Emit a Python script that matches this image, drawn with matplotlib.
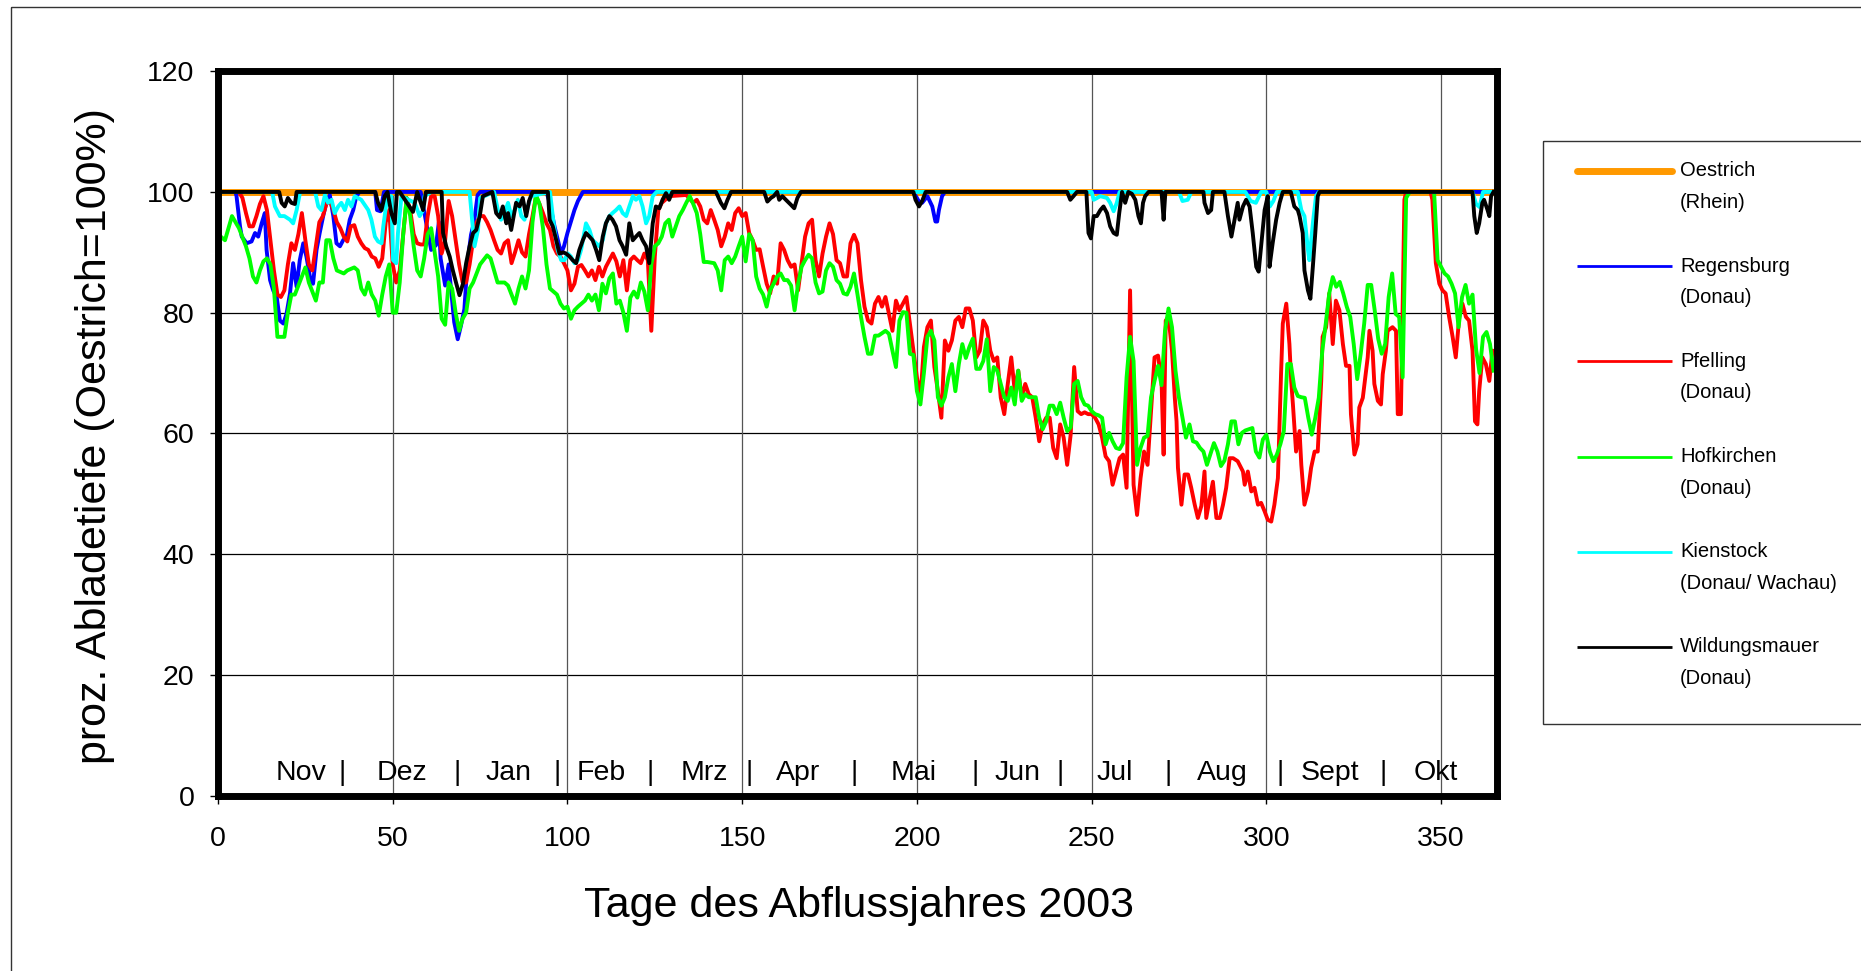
import numpy as np
import matplotlib
matplotlib.use('Agg')
import matplotlib.pyplot as plt
from matplotlib.patches import Rectangle

plt.rcParams['font.family'] = ['Liberation Sans', 'DejaVu Sans']

# ===== Daten: (Tag, proz. Abladetiefe) =====
oestrich = [(0, 100), (365, 100)]

regensburg = [
    (0, 100), (5, 100), (5.3, 99.3), (6.3, 94.3), (6.8, 92.6), (8.2, 91.5), (9.6, 91.8), (10.6, 93.2),
    (11.5, 92.6), (12.5, 94.8), (13.4, 96.5), (13.9, 90.4), (14.9, 85.4), (15.8, 83.7), (16.8, 82.6),
    (17.7, 78.7), (18.7, 78.2), (19.6, 79.8), (20.6, 83.2), (21.5, 88.2), (22.5, 84.3), (23.4, 88.7),
    (24.4, 91.5), (25.3, 89.3), (26.3, 86), (27.2, 84.8), (28.2, 90.4), (29.1, 93.2), (30.1, 96),
    (31, 98.2), (32, 99.5), (33, 96), (33.9, 91.5), (34.9, 91), (35.8, 92), (36.8, 92.6), (37.7, 95.4),
    (38.7, 97), (39.6, 99.3), (40.5, 100), (45, 100), (45.5, 97), (46.5, 96.8), (47.5, 100), (58, 100),
    (59.6, 94.8), (61, 90.4), (62.4, 91.2), (63.2, 95), (63.7, 89), (65, 84.5), (66, 88), (67.6, 78.4),
    (68.6, 75.6), (69.5, 77.8), (70.5, 80.6), (71.4, 88.4), (72.4, 92.9), (73.3, 95.1), (74.3, 99.5),
    (75, 100), (94, 100), (95, 98), (96.3, 94.3), (98.2, 89.8), (99, 91), (100, 93.2), (102, 97),
    (103, 98.5), (104.4, 100), (199, 100), (200.6, 98.4), (201.5, 98.2), (203, 99.3), (204.4, 97.6),
    (205.3, 95.1), (205.8, 95.1), (206.3, 97), (207.2, 99.3), (208, 100), (365, 100)]

pfelling = [
    (0, 100), (6, 100), (7, 99), (8, 96.5), (9, 94.3), (10, 94.3), (11, 96), (12, 98), (13, 99.3), (14, 97),
    (15, 92), (16, 87), (17, 83), (18, 82.6), (19, 83.7), (20, 88), (21, 91.5), (22, 90.4), (23, 93),
    (24, 96.5), (25, 92), (26, 88), (27, 87), (28, 91), (29, 95), (30, 96), (31, 98), (32, 98.5), (33, 97),
    (34, 95), (35, 94), (36, 92.6), (37, 91.8), (38, 94.3), (39, 94.5), (40, 92.6), (41, 91.5), (42, 90.7),
    (43, 90.4), (44, 89.3), (45, 89), (46, 87.6), (47, 89), (48, 95), (49, 97), (50, 88), (51, 85), (52, 87),
    (53, 93), (54, 99), (55, 97), (56, 93), (57, 91.5), (58, 91.3), (59, 91.3), (60, 96), (61, 99.3),
    (62, 99.3), (63, 96), (64, 89.8), (65, 92), (66, 98.5), (67, 96), (68, 92), (69, 88), (70, 85), (71, 85),
    (72, 88), (73, 92), (74, 95), (75, 96), (76, 96), (77, 95), (78, 93.7), (79, 92), (80, 90.4), (81, 89.8),
    (82, 91.5), (83, 92), (84, 88.2), (85, 90), (86, 92), (87, 90), (88, 89.3), (89, 93), (90, 96),
    (91, 99.3), (92, 98), (93, 96.5), (94, 94.8), (95, 93.7), (96, 91), (97, 89.8), (98, 89.3), (99, 88.2),
    (100, 87), (101, 83.7), (102, 84.8), (103, 87.6), (104, 87.9), (105, 87), (106, 86), (107, 87),
    (108, 85.4), (109, 87.6), (110, 86), (111, 87.6), (112, 88.7), (113, 89.8), (114, 88.5), (115, 86),
    (116, 88.7), (117, 83.7), (118, 88.7), (119, 89.3), (120, 88.7), (121, 88.2), (122, 89.8), (123, 88.7),
    (124, 77), (125, 89.3), (126, 97), (127, 98.2), (128, 98.7), (129, 99.3), (134, 99.5), (136, 98.2),
    (137, 98.7), (138, 97.6), (139, 95.4), (140, 94.8), (141, 97), (142, 95.4), (143, 93.7), (144, 91),
    (145, 92.6), (146, 94.8), (147, 93.7), (148, 96.5), (149, 97.3), (150, 96), (151, 96.5), (152, 93.2),
    (153, 92), (154, 90.4), (155, 90.5), (156, 87.6), (157, 84.8), (158, 83.2), (159, 86), (160, 84.8),
    (161, 91.5), (162, 90.4), (163, 88.7), (164, 87.6), (165, 88), (166, 83.7), (167, 88.2), (168, 92.6),
    (169, 94.8), (170, 95.4), (171, 88.7), (172, 86), (173, 89.8), (174, 92.6), (175, 94.8), (176, 93),
    (177, 88.7), (178, 88.2), (179, 86), (180, 86), (181, 91.5), (182, 92.9), (183, 91.5), (184, 85.4),
    (185, 81), (186, 78.7), (187, 78.2), (188, 81.5), (189, 82.6), (190, 81), (191, 82.6), (192, 79.8),
    (193, 77), (194, 82), (195, 80.4), (196, 81.5), (197, 82.6), (198, 78.2), (199, 73.7), (200, 69.3),
    (201, 65.9), (202, 74.3), (203, 77.6), (204, 78.7), (205, 71), (206, 67), (207, 62.6), (208, 75.4),
    (209, 73.7), (210, 75.4), (211, 78.7), (212, 79.3), (213, 77.6), (214, 80.7), (215, 80.7), (216, 78.7),
    (217, 72.6), (218, 73.7), (219, 78.7), (220, 77.6), (221, 73.7), (222, 72), (223, 72.6), (224, 65.9),
    (225, 63.2), (226, 68.2), (227, 72.6), (228, 67), (229, 70.4), (230, 65.9), (231, 68.2), (232, 66.5),
    (233, 66), (234, 62.6), (235, 58.7), (236, 61.5), (237, 62.6), (238, 62.6), (239, 57.6), (240, 55.9),
    (241, 61.5), (242, 59.3), (243, 54.8), (244, 59.8), (245, 71), (246, 63.7), (247, 63.2), (248, 63.5),
    (249, 63.2), (250, 63.2), (251, 62.6), (252, 61.5), (253, 59.3), (254, 56.2), (255, 55.4), (256, 51.5),
    (257, 53.7), (258, 55.9), (259, 56.5), (260, 51), (261, 83.7), (262, 51.5), (263, 46.5), (264, 52.6),
    (265, 57), (266, 54.8), (267, 63.7), (268, 72.6), (269, 72.9), (270, 68.7), (270.6, 56.5), (271.2, 78.7),
    (272, 79.3), (273, 73.7), (273.8, 65.9), (274.3, 62), (274.7, 54.3), (275.7, 48.2), (276.6, 53.2),
    (277.6, 53.2), (278.5, 51), (279.5, 48.2), (280.4, 46), (281.4, 48), (282.3, 53.7), (282.8, 46),
    (283.8, 49.3), (284.7, 52), (285.7, 46), (286.7, 46), (287.6, 48.2), (288.5, 51), (289.5, 55.9),
    (290.5, 55.9), (291.8, 55.4), (293.3, 53.7), (293.8, 51.5), (294.7, 53.7), (295.7, 50.4), (296.6, 51),
    (297.6, 48.2), (298.5, 48.5), (299.5, 47.1), (300.4, 45.7), (301.4, 45.4), (302.3, 48.2), (303.3, 52.6),
    (304.2, 69.8), (304.7, 78.2), (305.7, 81.5), (306.6, 74.8), (307.1, 68.7), (307.6, 64.8), (308.5, 57),
    (309.5, 60.4), (310, 54.8), (310.9, 48.2), (311.9, 50.4), (312.8, 54.3), (313.8, 57), (314.7, 57),
    (315.7, 68.7), (316.1, 76), (317.1, 77.6), (318, 83.2), (319, 74.8), (319.9, 82), (320.9, 80.4),
    (321.9, 74.8), (322.8, 71.2), (323.8, 71.2), (324.2, 63.2), (325.2, 56.5), (326.1, 58.2), (326.6, 64.3),
    (327.6, 65.9), (329, 72.6), (329.5, 77), (330.4, 73.7), (330.9, 68.2), (331.9, 65.4), (332.8, 64.8),
    (333.3, 69.8), (334.2, 73.7), (334.7, 77), (336.1, 77.6), (337.1, 77), (337.6, 63.2), (338.5, 63.2),
    (339.5, 98.7), (340, 100), (347, 100), (347.5, 98.7), (348.5, 88.2), (349.5, 84.8), (350.4, 83.7),
    (351.3, 83.2), (352.3, 79.3), (353.3, 76), (354.2, 72.6), (355.2, 79.3), (356.1, 81.5), (357.1, 79.3),
    (358, 78.7), (359, 73.7), (359.7, 62), (360.4, 61.5), (360.9, 67), (361.8, 72.6), (362.8, 71.5),
    (363.8, 68.7), (364.7, 73.7)]

hofkirchen = [
    (0, 93), (1, 92.5), (2, 92), (4, 96), (6, 94), (8, 91), (9, 89), (10, 86), (11, 85), (12, 87), (13, 88.5),
    (14, 89), (15, 88), (16, 84), (17, 76), (18, 76), (19, 76), (20, 80), (21, 83), (22, 83), (24, 86),
    (25, 87.5), (26, 85), (27, 83.5), (28, 82), (29, 85), (30, 85), (31, 92), (32, 92), (33, 89), (34, 87),
    (36, 86.5), (37, 87), (39, 87.5), (40, 87), (41, 84), (42, 83), (43, 85), (44, 83), (45, 82), (46, 79.5),
    (47, 83), (48, 86), (49, 88), (50, 80), (51, 80), (52, 85), (53, 93), (54, 99), (55, 96), (56, 91),
    (57, 87), (58, 86), (59, 89), (60, 93), (61, 94), (62, 90), (63, 86), (64, 79), (65, 78), (66, 85),
    (67, 84), (68, 80), (69, 77), (70, 79), (71, 80), (72, 84), (73, 85), (75, 88), (77, 89.5), (78, 89),
    (79, 87), (80, 85), (82, 85), (83, 84.5), (84, 83), (85, 81.5), (86, 84), (87, 86), (88, 84), (89, 87),
    (90, 95), (91, 99.5), (92, 98), (93, 94), (94, 88), (95, 84), (96, 83.5), (97, 83), (98, 81.5),
    (99, 80.7), (100, 81), (101, 79), (102, 80.4), (103, 81), (104, 81.5), (105, 82), (106, 83), (107, 82),
    (108, 83), (109, 80.4), (110, 84.8), (111, 83.2), (112, 85.7), (113, 86.5), (114, 81.5), (115, 82),
    (116, 80), (117, 77), (118, 82.5), (119, 83.5), (120, 82.5), (121, 85), (122, 83.5), (123, 80.4),
    (124, 88), (125, 91), (126, 91.5), (127, 92.6), (128, 94.8), (129, 95.4), (130, 92.6), (131, 94.3),
    (132, 96), (133, 97), (134, 98.2), (135, 99.3), (136, 98), (137, 96.5), (138, 93), (139, 88.4),
    (140, 88.4), (141, 88.3), (142, 88.2), (143, 87), (144, 83.7), (145, 88.7), (146, 89.3), (147, 88.2),
    (148, 89.3), (149, 91), (150, 92.6), (151, 88.5), (152, 93), (153, 92), (154, 86), (155, 84), (156, 83),
    (157, 81), (158, 83.7), (159, 84.8), (160, 86), (161, 86.5), (162, 85.4), (163, 85.4), (164, 84.5),
    (165, 80.4), (166, 84.8), (167, 87.6), (168, 88.7), (169, 89.6), (170, 89), (171, 85), (172, 83.2),
    (173, 83.5), (174, 87), (175, 88.2), (176, 87.6), (177, 85.4), (178, 84.8), (179, 83.2), (180, 83),
    (181, 84.3), (182, 86.5), (183, 83), (184, 79.3), (185, 76), (186, 73.2), (187, 73.2), (188, 76.2),
    (189, 76.2), (191, 77), (192, 76.5), (193, 73.7), (194, 71), (195, 78.7), (196, 80.1), (197, 80),
    (198, 73.2), (199, 73), (200, 67), (201, 64.8), (202, 70), (203, 76), (204, 77), (205, 75.4), (206, 66),
    (207, 64.6), (208, 66), (209, 69.3), (210, 71.5), (211, 67), (212, 71.5), (213, 74.8), (214, 72.5),
    (215, 74.3), (216, 75.7), (217, 70.7), (218, 70.7), (219, 72), (220, 75.6), (221, 67), (222, 71),
    (223, 70.4), (224, 68.2), (225, 66), (226, 65.4), (227, 67.6), (228, 64.8), (229, 70.4), (230, 65.4),
    (231, 66.5), (232, 66), (234, 66), (235, 62.6), (236, 60.7), (237, 62), (238, 64.6), (239, 64.6),
    (240, 63.2), (241, 65.1), (242, 62.6), (243, 60.4), (244, 61), (245, 68.2), (246, 68.7), (247, 66),
    (248, 64.8), (249, 64.6), (250, 63.7), (251, 63.2), (252, 63), (253, 62.6), (254, 58.2), (255, 60.1),
    (256, 58.7), (257, 57.6), (258, 57.4), (259, 58.4), (260, 69.3), (261, 76), (262, 72), (263, 54.8),
    (264, 57.6), (265, 59.3), (266, 59.6), (267, 66), (268, 68.7), (269, 71.2), (270, 68), (271, 77),
    (272, 80.7), (273, 77.6), (274, 70.4), (275, 65.9), (276, 62.6), (277, 59.3), (278, 61.5), (279, 58.7),
    (280, 58.5), (281, 57.6), (282, 57), (283, 54.8), (285, 58.4), (286, 57), (287, 54.6), (288, 55.5),
    (289, 58.2), (290, 62), (291, 62), (292, 58.2), (293, 60.1), (294, 60.5), (296, 60.9), (297, 57),
    (298, 56), (299, 59), (300, 59.8), (301, 57), (302, 55.4), (303, 56.5), (304, 58.2), (305, 60.4),
    (306, 71.5), (307, 71.5), (308, 67.6), (309, 66.2), (310, 66), (311, 65.9), (312, 62.6), (313, 59.8),
    (314, 62.6), (315, 65.9), (316, 73.7), (317, 78.2), (318, 83.2), (319, 85.9), (320, 84.3), (321, 85.1),
    (322, 83.2), (323, 81), (324, 79.3), (325, 74.8), (326, 69), (327, 73.2), (328, 78.2), (329, 84.6),
    (330, 84.6), (331, 80.4), (332, 75.7), (333, 73.2), (334, 74.8), (335, 82.6), (336, 86.5), (337, 79.8),
    (338, 79.3), (339, 69.3), (340, 99), (341, 100), (348, 100), (349, 88.7), (350, 87.6), (351, 86.5),
    (352, 86), (353, 84.8), (354, 83.2), (355, 77.6), (356, 82.6), (357, 84.6), (358, 81.5), (359, 83),
    (360, 74), (361, 70), (362, 76), (363, 76.8), (364, 74.8), (365, 70.4)]

kienstock = [
    (0, 100), (15.5, 100), (16.3, 97.6), (17.7, 96), (19, 96), (20.6, 95.4), (21.5, 94.8), (22.5, 97),
    (23.5, 100), (27.8, 100), (28.7, 97.6), (29.6, 97), (30.6, 99.5), (31.5, 98.2), (32.5, 98.7),
    (33.4, 96.5), (34.4, 97.6), (35.3, 98.2), (36.3, 97), (37.2, 98.7), (38.2, 97.6), (39.1, 99.3),
    (41, 98.7), (43, 97), (43.9, 95.4), (44.9, 92.6), (45.8, 91.8), (46.8, 91.5), (47.3, 94.3), (48.2, 98.2),
    (48.7, 99.3), (49.6, 99.3), (50.1, 88.7), (51, 88.2), (51.5, 93.2), (52.5, 99.3), (56.3, 98.2),
    (57.7, 96), (58.7, 97), (59.1, 99.3), (61, 100), (72, 100), (73.4, 91), (74.4, 93.7), (75, 99),
    (79, 100), (80.1, 97), (81, 95.4), (82, 96.5), (83, 98.2), (83.9, 96), (84.9, 97), (85.8, 98.7),
    (86.8, 96), (87.7, 95.4), (88.7, 97.6), (89.6, 99.3), (95, 100), (96, 95), (97.2, 90.4), (98.2, 88.7),
    (99.1, 88.7), (100.1, 89.8), (101, 89.3), (102, 88.2), (103, 88.7), (103.9, 90.4), (105.3, 94.8),
    (106.3, 93.7), (107.2, 92), (108.2, 91.5), (109.1, 91), (110.1, 92), (111, 94.8), (112, 96),
    (112.9, 96.5), (113.9, 97), (114.9, 97.6), (115.8, 96.5), (116.8, 96), (117.7, 97.6), (118.7, 99.3),
    (119.6, 98.7), (120.6, 99.3), (121.5, 97.6), (122.5, 94.8), (123.4, 96), (124.4, 99.3), (125.5, 100),
    (250, 100), (250.6, 98.7), (252.5, 99.3), (254.4, 99), (255.3, 98.2), (256.3, 96.8), (257.2, 98.2),
    (258, 100), (275, 100), (276, 98.5), (277.5, 98.7), (278.5, 100), (294, 100), (295.5, 98.5),
    (297, 98.2), (298.5, 100), (300, 100), (301, 97.6), (302, 98.5), (303, 100), (309, 100), (310, 97),
    (310.9, 96), (311.9, 90.4), (312.3, 88.7), (313.3, 94.8), (314.2, 99.3), (315, 100), (359, 100),
    (360, 98), (361, 97.5), (362, 100), (365, 100)]

wildungsmauer = [
    (0, 100), (17.5, 100), (18.2, 98.2), (19.1, 97.6), (20, 99), (21, 98.2), (22, 98), (22.5, 100),
    (45, 100), (45.8, 98.2), (46.8, 97), (47.7, 99.3), (48.5, 100), (49.6, 96.5), (50.6, 94.8), (51.2, 100),
    (52, 100), (55.8, 96.7), (57, 100), (58.7, 97), (59.5, 100), (64, 100), (64.4, 93.2), (65.3, 91),
    (66.3, 89.3), (67.2, 87), (68.2, 84.8), (69.1, 82.9), (70.1, 84.8), (71, 88.2), (72, 91), (73, 93.2),
    (73.9, 93.7), (74.9, 96), (75.8, 99.3), (78.5, 100), (79.6, 96.5), (80.6, 95.8), (81.5, 97.6),
    (82.5, 94.8), (83, 96.5), (83.9, 93.7), (85.3, 98.2), (86.3, 97.6), (87.2, 99), (88.2, 96), (89, 98.5),
    (90, 100), (94.4, 100), (94.9, 95.4), (95.8, 94.3), (96.8, 92), (97.7, 89.8), (98.7, 90), (99.6, 89.8),
    (100.6, 89.3), (101.5, 88.7), (102.5, 88.2), (103.4, 90.4), (104.4, 92), (105.3, 93.2), (106.3, 92.6),
    (107.2, 92), (108.2, 90.4), (109.1, 88.7), (110.1, 92.6), (111, 94.8), (112, 96), (112.9, 95.4),
    (113.9, 94.3), (114.9, 92), (115.8, 91), (116.8, 89.6), (117.7, 94.8), (118.7, 92), (119.6, 92.6),
    (120.6, 93.2), (121.5, 92), (122.5, 91), (123.4, 88.2), (124.4, 94.8), (125.3, 97.6), (126.3, 97.3),
    (127.2, 98.7), (128.2, 99.8), (129.1, 98.7), (130, 100), (142.5, 100), (143.9, 98.2), (144.9, 97.3),
    (145.8, 98.7), (146.8, 100), (156.3, 100), (157.2, 98.4), (158.2, 99), (159, 99.3), (160, 100),
    (160.6, 98.7), (161.5, 99.3), (162.5, 98.7), (163.9, 97.9), (164.9, 97.3), (165.8, 99), (166.8, 100),
    (199, 100), (199.6, 98.7), (200.6, 97.6), (201.5, 98.5), (202.5, 100), (243, 100), (243.9, 98.7),
    (244.8, 99.3), (245.8, 100), (248.5, 100), (249.1, 93.2), (249.8, 92.3), (250.6, 96), (251.5, 96),
    (252.5, 97), (253.4, 97.6), (254.4, 96.5), (255.3, 94.3), (256.3, 93.2), (257.2, 92.9), (257.9, 96.5),
    (258.7, 100), (259.6, 98.2), (260.5, 100), (261.5, 99.7), (262.5, 98.7), (263.4, 96), (264.1, 94.8),
    (264.7, 98.2), (265.3, 99.3), (266.3, 100), (270, 100), (270.6, 95.4), (271.1, 100), (282, 100),
    (282.3, 98.2), (283.3, 96.5), (284.2, 97), (284.7, 100), (288, 100), (289, 96), (290, 92.6),
    (290.9, 95.4), (291.8, 98.2), (292.3, 95.4), (293.3, 97.6), (294.2, 98.7), (295.2, 97.6), (296.1, 93.2),
    (297.1, 87.6), (297.8, 86.8), (298.5, 91), (299.5, 97), (300.4, 99.3), (300.9, 87.6), (301.8, 91.5),
    (302.8, 95.4), (303.8, 98.2), (304.7, 100), (307, 100), (308, 97.6), (309, 97), (309.5, 96),
    (310.4, 93.2), (310.9, 87), (311.9, 83.7), (312.6, 82.3), (313.3, 87.6), (314, 93.2), (314.7, 99.3),
    (315.2, 100), (359, 100), (359.5, 96), (360.2, 93.2), (360.9, 94.8), (361.8, 98.2), (362.3, 98.7),
    (363.3, 97), (363.8, 96), (364.3, 99.3), (365, 100)]

stationen = ['Oestrich', 'Regensburg', 'Pfelling', 'Hofkirchen', 'Kienstock', 'Wildungsmauer']
fluesse = ['(Rhein)', '(Donau)', '(Donau)', '(Donau)', '(Donau/ Wachau)', '(Donau)']
farben = ['#FF9900', '#0000FF', '#FF0000', '#00FF00', '#00FFFF', '#000000']
reihen = [oestrich, regensburg, pfelling, hofkirchen, kienstock, wildungsmauer]

monate = ['Nov', 'Dez', 'Jan', 'Feb', 'Mrz', 'Apr', 'Mai', 'Jun', 'Jul', 'Aug', 'Sept', 'Okt']
monat_tage = [23.8, 52.5, 83, 109.7, 139.3, 166, 199, 228.7, 256.5, 287.4, 318.2, 348.5]
trenner_tage = [35.4, 68.3, 97.1, 123.6, 152, 181.9, 216.8, 241, 271.8, 304, 333.5]

# ===== Figur =====
W, H = 1861, 971
fig = plt.figure(figsize=(W / 100, H / 100), dpi=100)
ax = fig.add_axes([218 / W, 1 - 795.7 / H, (1497 - 218) / W, (795.7 - 71.2) / H])

for i, (pts, farbe) in enumerate(zip(reihen, farben)):
    t, w = np.array(pts).T
    if i == 0:
        ax.plot(t, w, color=farbe, lw=5, solid_capstyle='round', zorder=2)
    else:
        ax.plot(t, w, color=farbe, lw=2.8, zorder=2 + i)

for yv in range(20, 101, 20):
    ax.axhline(yv, color='black', lw=0.9, zorder=1)
for xv in range(50, 351, 50):
    ax.axvline(xv, color='#555555', lw=0.9, zorder=1)

for name, tag in zip(monate, monat_tage):
    ax.text(tag, 3.8, name, ha='center', va='center', fontsize=20.5)
for tag in trenner_tage:
    ax.text(tag, 3.8, '|', ha='center', va='center', fontsize=20.5)

ax.set_xlim(0, 366)
ax.set_ylim(0, 120)
ax.set_xticks(range(0, 351, 50))
ax.set_yticks(range(0, 121, 20))
for s in ax.spines.values():
    s.set_linewidth(5)
    s.set_zorder(10)
ax.tick_params(direction='out', length=6, width=1, labelsize=20.5)
ax.tick_params(axis='y', pad=11)
ax.tick_params(axis='x', pad=16)

# ===== Overlay in Pixelkoordinaten =====
ov = fig.add_axes([0, 0, 1, 1], zorder=20)
ov.set_xlim(0, W)
ov.set_ylim(H, 0)
ov.axis('off')
ov.patch.set_alpha(0)

ov.add_patch(Rectangle((11, 7), 1900, 1000, fill=False, ec='#333333', lw=1))
ov.add_patch(Rectangle((1543, 141), 400, 583, fill=False, ec='#333333', lw=1))

ov.text(95, 436, 'proz. Abladetiefe (Oestrich=100%)', rotation=90, ha='center', va='center', fontsize=31)
ov.text(859, 906, 'Tage des Abflussjahres 2003', ha='center', va='center', fontsize=31)

for i, (name, fluss, farbe) in enumerate(zip(stationen, fluesse, farben)):
    y = 171 + i * 95.2
    ov.plot([1577, 1672], [y, y], color=farbe, lw=5 if i == 0 else 2,
            solid_capstyle='round' if i == 0 else 'butt')
    ov.text(1680, y, name, ha='left', va='center', fontsize=14.5)
    ov.text(1680, y + 31.5, fluss, ha='left', va='center', fontsize=14.5)

fig.savefig('out.png', dpi=100)
